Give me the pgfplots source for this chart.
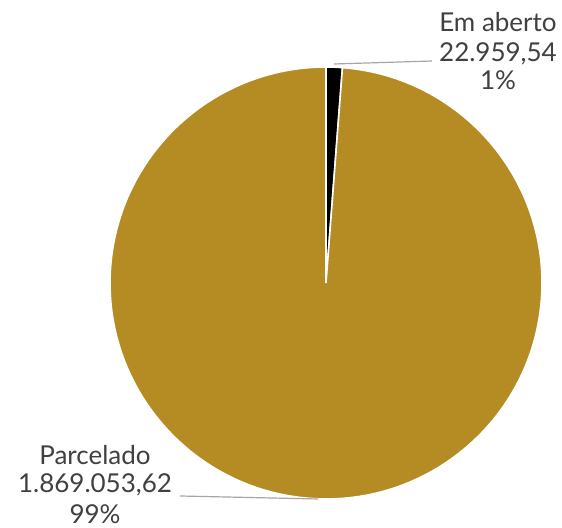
\documentclass[border=0pt]{standalone}
\usepackage{pgfplots}
\pgfplotsset{compat=1.18}
\usepackage{pgfplotstable}
\usepackage{fontspec}
\setmainfont{Lato}
\definecolor{gold}{RGB}{181,139,36}
\definecolor{txt}{RGB}{64,64,64}
\definecolor{leader}{RGB}{166,166,166}

% values of the two slices
\pgfplotstableread{
label value
EmAberto 22959.54
Parcelado 1869053.62
}\piedata
\pgfplotstablegetelem{0}{value}\of\piedata \let\va\pgfplotsretval
\pgfplotstablegetelem{1}{value}\of\piedata \let\vb\pgfplotsretval
\edef\angA{\fpeval{360*\va/(\va+\vb)}}
\edef\endA{\fpeval{90-\angA}}

\begin{document}%
\begin{tikzpicture}
\begin{axis}[
    name=pie,
    hide axis,
    scale only axis,
    disabledatascaling,
    x=0.75pt, y=0.75pt,
    xmin=0, xmax=562, ymin=0, ymax=528,
    clip=false,
]
    % slices, clockwise from 12 o'clock
    \fill[black, draw=white, line width=1.2pt] (axis cs:326,245) -- ++(90:162pt)
        arc[start angle=90, end angle=\endA, radius=162pt] -- cycle;
    \fill[gold, draw=white, line width=1.2pt] (axis cs:326,245) -- ++(\endA:162pt)
        arc[start angle=\endA, end angle=-270, radius=162pt] -- cycle;

    % leader lines
    \draw[leader, line width=0.9pt] (axis cs:334,464) -- (axis cs:432,467);
    \draw[leader, line width=0.9pt] (axis cs:180,32) -- (axis cs:318,29);

    % data labels
    \begin{scope}[every node/.style={anchor=base, text=txt, inner sep=0pt,
        font=\fontsize{19.5}{22}\selectfont}]
    \node at (axis cs:498,496) {Em aberto};
    \node at (axis cs:498,466) {22.959,54};
    \node at (axis cs:498,438) {1\%};
    \node at (axis cs:95,63) {Parcelado};
    \node at (axis cs:95,35) {1.869.053,62};
    \node at (axis cs:95,4) {99\%};
    \end{scope}
\end{axis}
\pgfresetboundingbox
\path (pie.south west) rectangle (pie.north east);
\end{tikzpicture}%
\end{document}
